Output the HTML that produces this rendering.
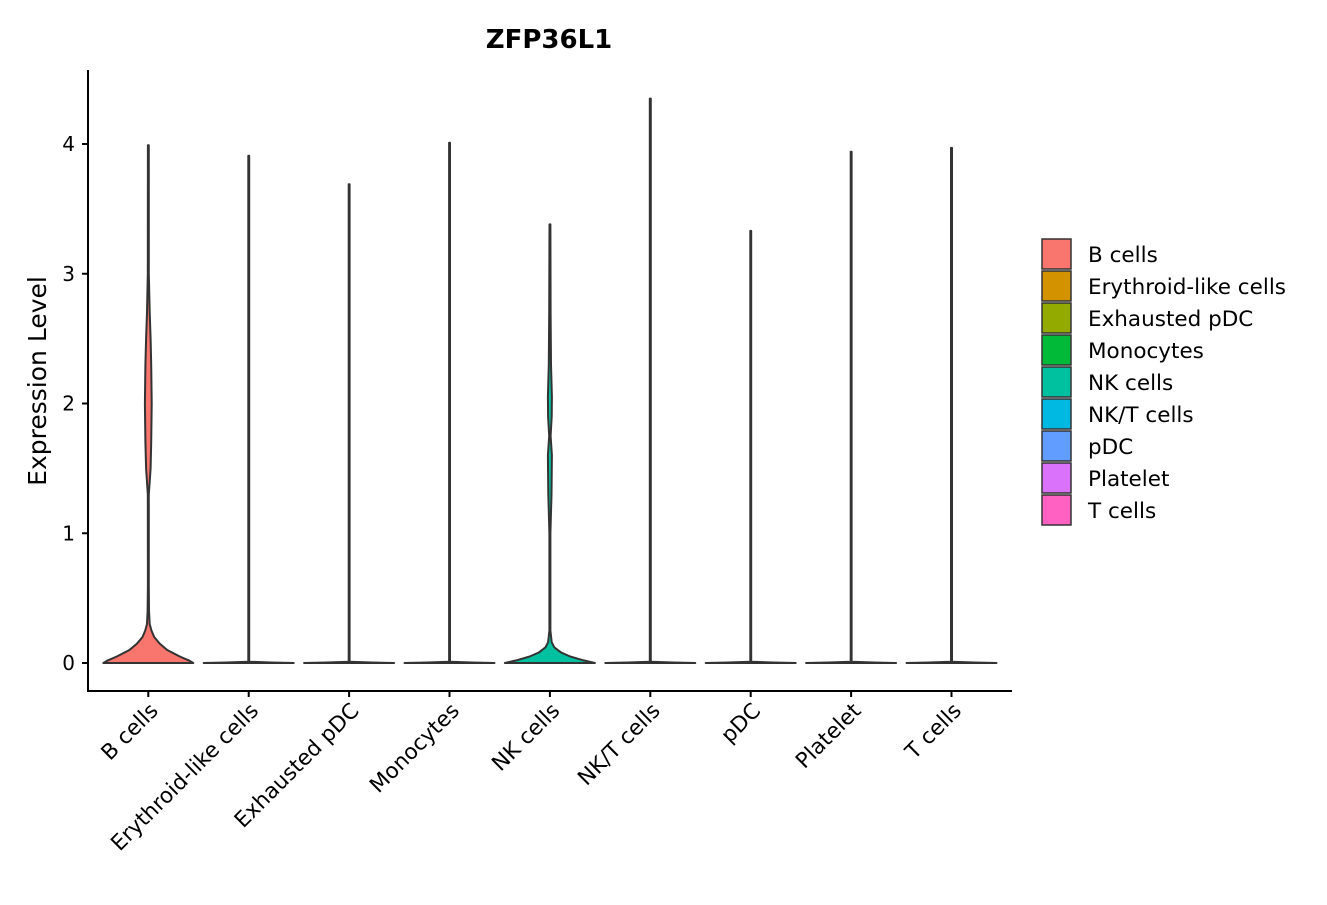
<!DOCTYPE html>
<html><head><meta charset="utf-8"><style>
body{margin:0;background:#fff;}
svg{font-family:"DejaVu Sans","Liberation Sans",sans-serif;}
</style></head><body>
<svg id="chart" width="1327" height="900" viewBox="0 0 1327 900">
<text x="549" y="48" text-anchor="middle" font-size="26" font-weight="bold" fill="#000">ZFP36L1</text>
<text transform="translate(46,381) rotate(-90)" text-anchor="middle" font-size="25" fill="#000">Expression Level</text>
<g id="plot"></g>
<g id="legend"></g>
</svg>
<script>
const categories=["B cells","Erythroid-like cells","Exhausted pDC","Monocytes","NK cells","NK/T cells","pDC","Platelet","T cells"];
const colors=["#F8766D","#D39200","#93AA00","#00BA38","#00C19F","#00B9E3","#619CFF","#DB72FB","#FF61C3"];
const maxValues=[3.99,3.91,3.69,4.01,3.38,4.35,3.33,3.94,3.97];
const yTicks=[0,1,2,3,4];
const bDensY=[0,0.02,0.05,0.1,0.15,0.2,0.25,0.3,0.4,0.6,1.3,1.5,1.7,2.0,2.3,2.5,2.7,3.0,3.99];
const bDensW=[1,0.9,0.7,0.42,0.25,0.13,0.07,0.03,0.015,0.01,0.012,0.05,0.065,0.075,0.065,0.05,0.03,0.012,0.01];
const nkDensY=[0,0.02,0.05,0.08,0.12,0.16,0.25,1.0,1.3,1.6,1.75,1.9,2.05,2.3,2.7,3.38];
const nkDensW=[1,0.75,0.45,0.25,0.1,0.04,0.012,0.012,0.035,0.045,0.015,0.04,0.045,0.025,0.015,0.01];
const NS="http://www.w3.org/2000/svg";
const y=v=>663-v*129.75;
const x=i=>148.3+i*100.4;
const plot=document.getElementById('plot');
function mk(t,a,p){const e=document.createElementNS(NS,t);for(const k in a)e.setAttribute(k,a[k]);(p||plot).appendChild(e);return e;}
let ax=mk('line',{x1:88,y1:70,x2:88,y2:691.5,stroke:'#000','stroke-width':2});


ax=mk('line',{x1:87,y1:691,x2:1012,y2:691,stroke:'#000','stroke-width':2});


yTicks.forEach(t=>{
  const l=mk('line',{x1:82,x2:88,y1:y(t),y2:y(t),stroke:'#000','stroke-width':2});
  
  
  const tx=mk('text',{x:75,y:y(t)+7,'text-anchor':'end','font-size':20,fill:'#000'});
  tx.textContent=t;
  
  
});
const halfMax=45;
categories.forEach((c,i)=>{
  let ys,ws;
  if(i===0){ys=bDensY;ws=bDensW;}
  else if(i===4){ys=nkDensY;ws=nkDensW;}
  else{ys=[0,0.004,0.01,maxValues[i]];ws=[1,0.5,0.01,0.01];}
  ys=ys.slice();ys[ys.length-1]=maxValues[i];
  const cx=x(i);
  let right=ys.map((v,k)=>[cx+ws[k]*halfMax,y(v)]);
  let left=ys.map((v,k)=>[cx-ws[k]*halfMax,y(v)]).reverse();
  const pts=right.concat(left);
  let d='M'+pts.map(p=>p[0].toFixed(1)+','+p[1].toFixed(1)).join(' L')+' Z';
  const p=mk('path',{d:d,fill:colors[i],stroke:'#333','stroke-width':2,'stroke-linejoin':'round'});
  
  
  const tk=mk('line',{x1:cx,x2:cx,y1:691,y2:697,stroke:'#000','stroke-width':2});
  
  
  const tx=mk('text',{transform:`translate(${cx+11},${712}) rotate(-45)`,'text-anchor':'end','font-size':21.5,fill:'#000'});
  tx.textContent=c;
  
  
  const lg=document.getElementById('legend');
  const r=mk('rect',{x:1042,y:239+i*32,width:29,height:30,fill:colors[i],stroke:'#333','stroke-width':1.5},lg);
  
  
  const lt=mk('text',{x:1088,y:262+i*32,'font-size':21.5,fill:'#000'},lg);
  lt.textContent=c;
  
  
});
</script>
</body></html>
